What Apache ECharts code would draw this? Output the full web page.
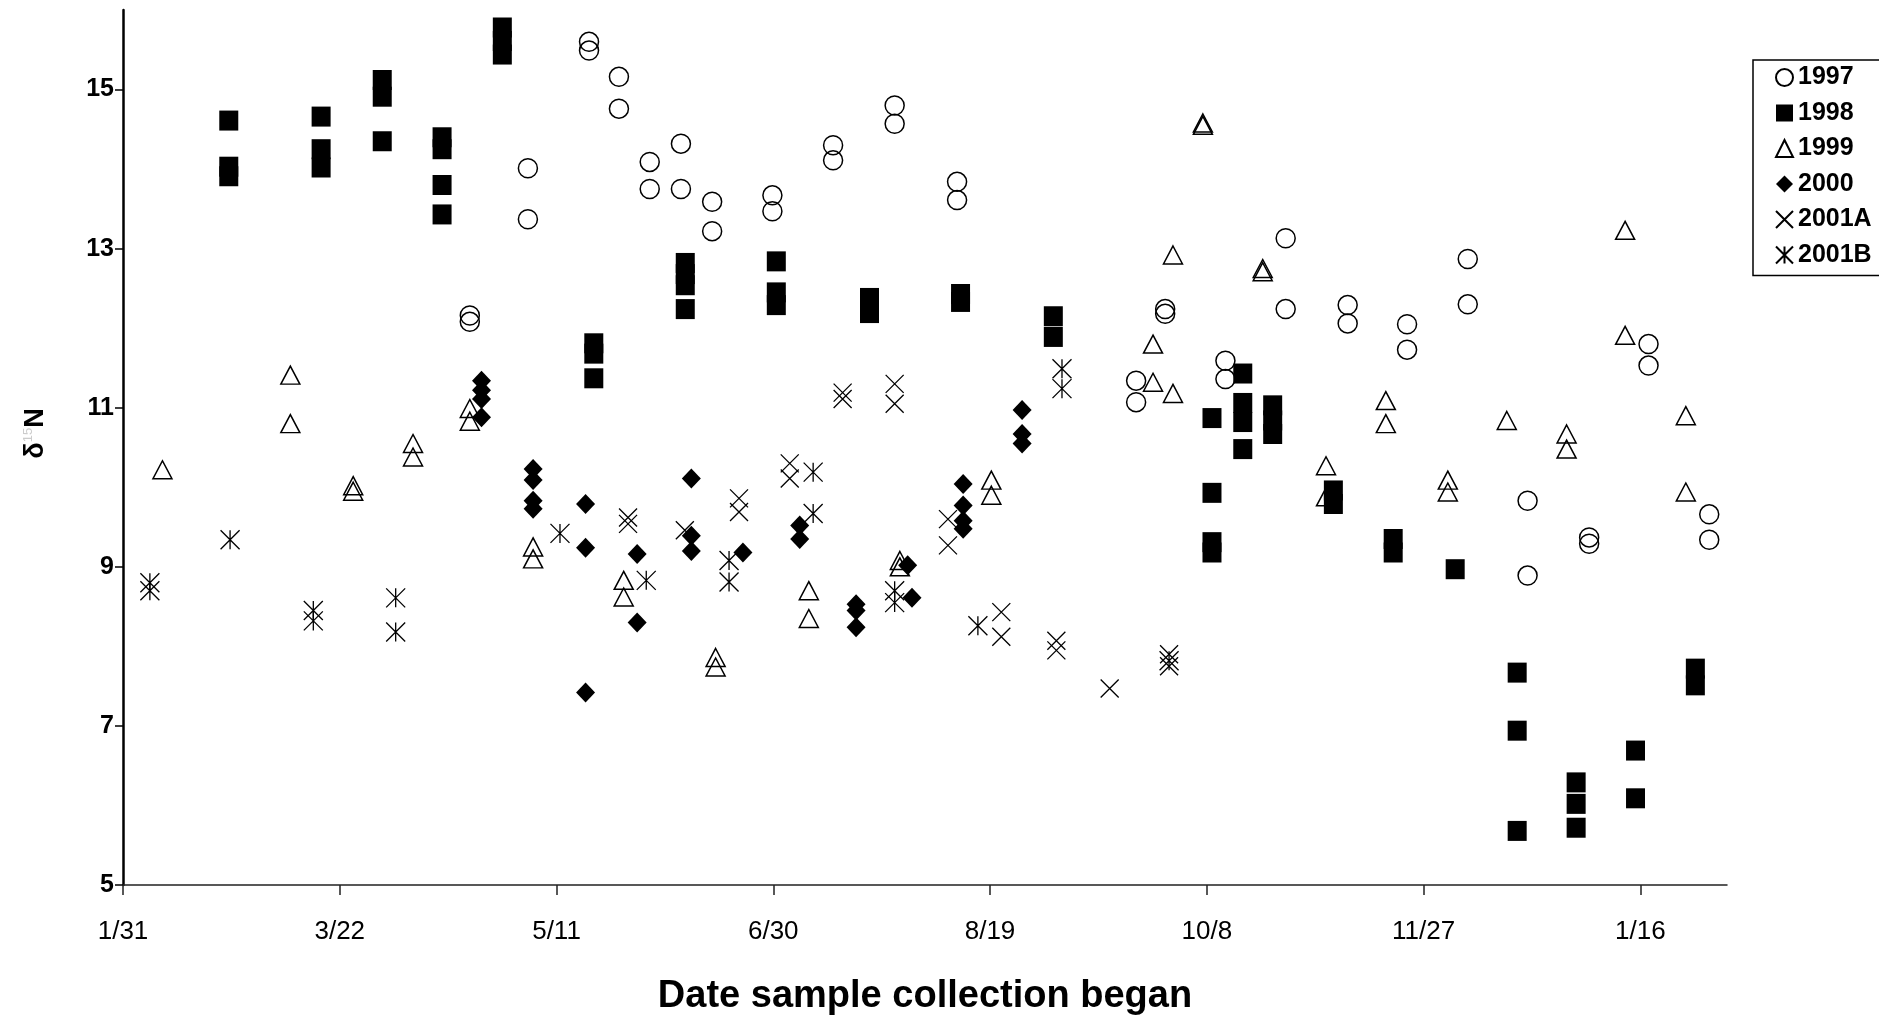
<!DOCTYPE html>
<html>
<head>
<meta charset="utf-8">
<title>Date sample collection began</title>
<script src="https://cdn.jsdelivr.net/npm/echarts@6/dist/echarts.min.js"></script>
<style>
  html, body { margin: 0; padding: 0; background: #fff; }
  #chart { width: 1879px; height: 1018px; }
</style>
</head>
<body>
<div id="chart"></div>
<script>
// x = days after 1/31, y = δ15N
const tickDays = [0, 50, 100, 150, 200, 250, 300, 350]
const tickLabels = ['1/31', '3/22', '5/11', '6/30', '8/19', '10/8', '11/27', '1/16']
const yTicks = [5, 7, 9, 11, 13, 15]

const data1997 = [
  [80, 12.16], [80, 12.08], [93.4, 14.01], [93.4, 13.37], [107.5, 15.60], [107.5, 15.49],
  [114.4, 15.16], [114.4, 14.76], [121.5, 14.09], [121.5, 13.75], [128.7, 14.32], [128.7, 13.75],
  [135.9, 13.59], [135.9, 13.22], [149.8, 13.67], [149.8, 13.47], [163.8, 14.30], [163.8, 14.11],
  [178, 14.80], [178, 14.57], [192.4, 13.84], [192.4, 13.61], [233.7, 11.34], [233.7, 11.07],
  [240.4, 12.24], [240.4, 12.18], [254.3, 11.59], [254.3, 11.36], [268.2, 13.13], [268.2, 12.24],
  [282.5, 12.29], [282.5, 12.06], [296.2, 12.05], [296.2, 11.73], [310.2, 12.87], [310.2, 12.30],
  [324, 9.83], [324, 8.89], [338.2, 9.37], [338.2, 9.29], [351.9, 11.80], [351.9, 11.53],
  [365.9, 9.66], [365.9, 9.34]
]
const data1998 = [
  [24.4, 14.61], [24.4, 14.03], [24.4, 13.91], [45.7, 14.66], [45.7, 14.25], [45.7, 14.02],
  [59.8, 15.12], [59.8, 14.91], [59.8, 14.35], [73.6, 14.40], [73.6, 14.25], [73.6, 13.80],
  [73.6, 13.43], [87.5, 15.78], [87.5, 15.61], [87.5, 15.44], [108.6, 11.81], [108.6, 11.68],
  [108.6, 11.37], [129.7, 12.82], [129.7, 12.68], [129.7, 12.54], [129.7, 12.24], [150.7, 12.84],
  [150.7, 12.45], [150.7, 12.29], [172.2, 12.38], [172.2, 12.19], [193.2, 12.43], [193.2, 12.33],
  [214.6, 12.15], [214.6, 11.89], [251.2, 10.87], [251.2, 9.93], [251.2, 9.31], [251.2, 9.18],
  [258.3, 11.43], [258.3, 11.06], [258.3, 10.82], [258.3, 10.48], [265.2, 11.03], [265.2, 10.84],
  [265.2, 10.67], [279.2, 9.96], [279.2, 9.79], [293, 9.35], [293, 9.18], [307.3, 8.97],
  [321.6, 7.67], [321.6, 6.94], [321.6, 5.68], [335.2, 6.29], [335.2, 6.02], [335.2, 5.72],
  [348.9, 6.69], [348.9, 6.09], [362.7, 7.72], [362.7, 7.51]
]
const data1999 = [
  [9.1, 10.22], [38.6, 11.41], [38.6, 10.80], [53.1, 10.02], [53.1, 9.95], [66.9, 10.55],
  [66.9, 10.38], [80, 10.99], [80, 10.83], [94.6, 9.25], [94.6, 9.10], [115.5, 8.83],
  [115.5, 8.62], [136.7, 7.86], [136.7, 7.74], [158.2, 8.70], [158.2, 8.35], [179.2, 9.08],
  [179.2, 9.00], [200.3, 10.09], [200.3, 9.90], [237.6, 11.80], [237.6, 11.32], [242.2, 12.92],
  [242.2, 11.18], [249.1, 14.55], [249.1, 14.58], [262.9, 12.71], [262.9, 12.75], [277.5, 10.27],
  [277.5, 9.88], [291.3, 11.09], [291.3, 10.80], [305.6, 10.09], [305.6, 9.94], [319.2, 10.84],
  [333, 10.67], [333, 10.48], [346.5, 13.23], [346.5, 11.91], [360.5, 10.90], [360.5, 9.94]
]
const data2000 = [
  [82.7, 11.34], [82.7, 11.22], [82.7, 11.11], [82.7, 10.88], [94.6, 10.23], [94.6, 10.09],
  [94.6, 9.83], [94.6, 9.73], [106.7, 9.79], [106.7, 9.24], [106.7, 7.42], [118.6, 9.16],
  [118.6, 8.30], [131.1, 10.11], [131.1, 9.39], [131.1, 9.20], [143, 9.18], [156.1, 9.52],
  [156.1, 9.35], [169.1, 8.53], [169.1, 8.45], [169.1, 8.24], [181, 9.02], [182, 8.61],
  [193.8, 10.04], [193.8, 9.77], [193.8, 9.58], [193.8, 9.48], [207.4, 10.97], [207.4, 10.67],
  [207.4, 10.55]
]
const data2001A = [
  [116.5, 9.62], [116.5, 9.54], [129.6, 9.46], [142.1, 9.86], [142.1, 9.69], [153.8, 10.30],
  [153.8, 10.11], [166, 11.19], [166, 11.11], [178, 11.30], [178, 11.05], [190.3, 9.60],
  [190.3, 9.27], [202.6, 8.43], [202.6, 8.12], [215.3, 8.07], [215.3, 7.95], [227.6, 7.47],
  [241.3, 7.90], [241.3, 7.75]
]
const data2001B = [
  [6.2, 8.70], [6.2, 8.80], [24.7, 9.34], [43.9, 8.32], [43.9, 8.45], [62.9, 8.61],
  [62.9, 8.18], [100.8, 9.42], [120.7, 8.83], [139.8, 9.08], [139.8, 8.81], [159.2, 10.19],
  [159.2, 9.67], [178, 8.55], [178, 8.70], [197.2, 8.26], [216.6, 11.49], [216.6, 11.24],
  [241.3, 7.82]
]

const FONT = '"Liberation Sans", Arial, sans-serif'
const xShape = 'path://M0,0L20,20M20,0L0,20'
const starShape = 'path://M0,0L20,20M20,0L0,20M10,0L10,20'

// scatter defaults to 0.8 opacity, the original marks are solid
const hollow = { color: 'rgba(0,0,0,0)', borderColor: '#000', borderWidth: 1.5, opacity: 1 }
const solid = { color: '#000', opacity: 1 }
const lines = { color: 'rgba(0,0,0,0)', borderColor: '#000', borderWidth: 1.3, opacity: 1 }

function scatter(name, data, symbol, size, itemStyle) {
  return {
    name: name,
    type: 'scatter',
    data: data,
    symbol: symbol,
    symbolSize: size,
    itemStyle: itemStyle,
    emphasis: { disabled: true },
    animation: false
  }
}

const chart = echarts.init(document.getElementById('chart'))
chart.setOption({
  backgroundColor: '#fff',
  textStyle: { fontFamily: FONT },
  grid: { left: 123, right: 152, top: 10, bottom: 133, outerBoundsMode: 'none' },
  legend: {
    orient: 'vertical',
    left: 1753,
    top: 60,
    padding: [5, 12, 8, 22],
    itemWidth: 17,
    itemHeight: 17,
    itemGap: 10.5,
    backgroundColor: '#fff',
    borderColor: '#000',
    borderWidth: 1.5,
    borderRadius: 0,
    textStyle: { fontSize: 25, fontWeight: 'bold', color: '#000', fontFamily: FONT },
    data: ['1997', '1998', '1999', '2000', '2001A', '2001B']
  },
  xAxis: {
    type: 'value',
    min: 0,
    max: 370,
    interval: 50,
    name: 'Date sample collection began',
    nameLocation: 'middle',
    nameGap: 93,
    nameTextStyle: { fontSize: 38, fontWeight: 'bold', color: '#000', fontFamily: FONT },
    splitLine: { show: false },
    axisLine: { onZero: false, lineStyle: { color: '#222', width: 1.5 } },
    axisTick: { length: 10, lineStyle: { color: '#222', width: 1.5 }, customValues: tickDays },
    axisLabel: {
      customValues: tickDays,
      margin: 34,
      fontSize: 26,
      color: '#000',
      fontFamily: FONT,
      formatter: v => tickLabels[tickDays.indexOf(v)] || ''
    }
  },
  yAxis: {
    type: 'value',
    min: 5,
    max: 16,
    interval: 2,
    name: '{d|δ}{s|15}{n|N}',
    nameLocation: 'middle',
    nameGap: 74,
    nameTextStyle: {
      // the superscript is almost lost in the original, keep it faint
      padding: [0, 0, 0, 28],
      rich: {
        d: { fontSize: 27, fontWeight: 'bold', color: '#000', fontFamily: FONT },
        s: { fontSize: 13, color: '#ccc', fontFamily: FONT, verticalAlign: 'top' },
        n: { fontSize: 27, fontWeight: 'bold', color: '#000', fontFamily: FONT }
      }
    },
    splitLine: { show: false },
    axisLine: { show: true, lineStyle: { color: '#000', width: 2.5 } },
    axisTick: { show: true, length: 8, lineStyle: { color: '#000', width: 1.5 }, customValues: yTicks },
    axisLabel: {
      customValues: yTicks,
      margin: 9,
      fontSize: 25,
      fontWeight: 'bold',
      color: '#000',
      fontFamily: FONT
    }
  },
  series: [
    scatter('1997', data1997, 'circle', 19, hollow),
    scatter('1998', data1998, 'rect', [19, 20], solid),
    scatter('1999', data1999, 'triangle', [19, 18], hollow),
    scatter('2000', data2000, 'diamond', [19, 20], solid),
    scatter('2001A', data2001A, xShape, 18, lines),
    scatter('2001B', data2001B, starShape, 19, lines)
  ]
})
</script>
</body>
</html>
